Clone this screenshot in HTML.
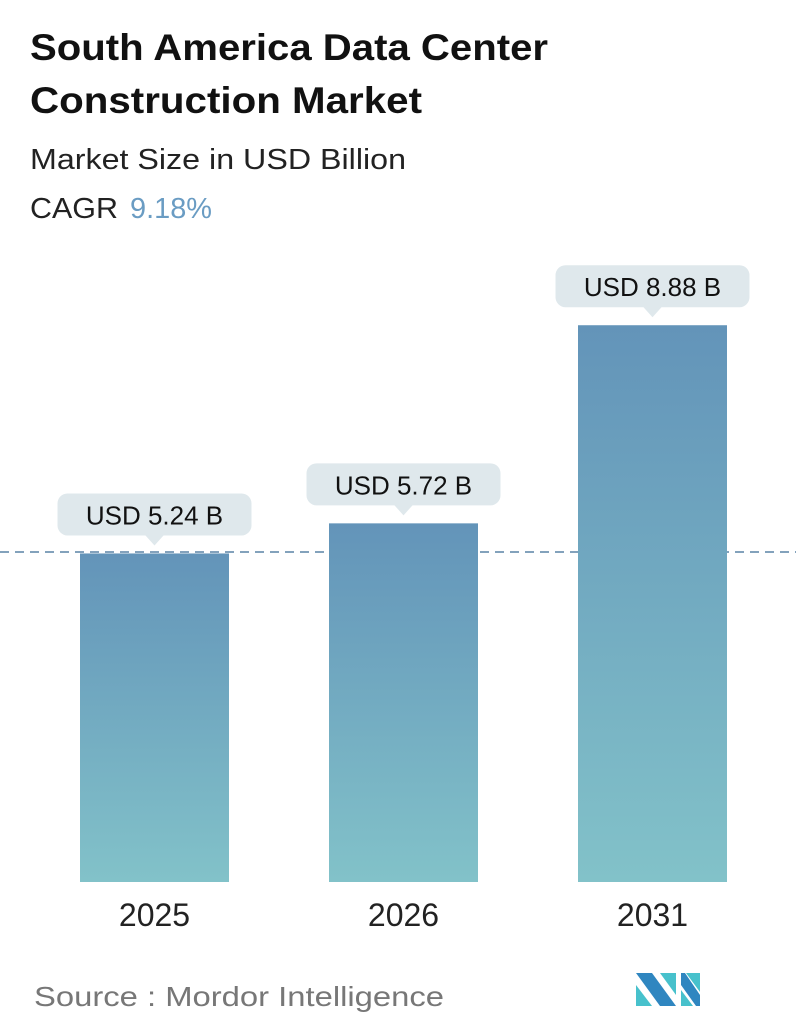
<!DOCTYPE html>
<html><head><meta charset="utf-8"><style>
html,body{margin:0;padding:0;background:#fff}
svg{display:block;font-family:"Liberation Sans",sans-serif}
</style></head><body>
<svg id="chart" width="796" height="1034" viewBox="0 0 796 1034" xmlns="http://www.w3.org/2000/svg">
<defs>
<linearGradient id="barGrad" x1="0" y1="0" x2="0" y2="1">
<stop offset="0" stop-color="#6394b9"/>
<stop offset="1" stop-color="#82c2c9"/>
</linearGradient>
</defs>
<text x="30" y="60" font-size="37" font-weight="bold" fill="#111" textLength="518" lengthAdjust="spacingAndGlyphs">South America Data Center</text>
<text x="30" y="113" font-size="37" font-weight="bold" fill="#111" textLength="392" lengthAdjust="spacingAndGlyphs">Construction Market</text>
<text x="30" y="169" font-size="29" fill="#222" textLength="376" lengthAdjust="spacingAndGlyphs">Market Size in USD Billion</text>
<text x="30" y="218" font-size="29" fill="#222" textLength="88" lengthAdjust="spacingAndGlyphs">CAGR</text>
<text x="130" y="218" font-size="29" fill="#6a9cc3" textLength="82" lengthAdjust="spacingAndGlyphs">9.18%</text>
<line x1="0" y1="552" x2="796" y2="552" stroke="#5a84a6" stroke-width="1.5" stroke-dasharray="9,6"/>
<g id="bars"></g>
<text x="34" y="1006" font-size="28" fill="#777" textLength="410" lengthAdjust="spacingAndGlyphs">Source :  Mordor Intelligence</text>
<g>
<polygon points="636,973 652,973 676,1006 660,1006" fill="#2f86c0"/>
<polygon points="636,985 652,1006 636,1006" fill="#47c1cc"/>
<polygon points="660,973 676,973 676,995" fill="#47c1cc"/>
<polygon points="681,973 685,973 700,995 700,1006 696,1006 681,985" fill="#2f86c0"/>
<polygon points="686,973 700,973 700,992" fill="#47c1cc"/>
<polygon points="681,990 693,1006 681,1006" fill="#47c1cc"/>
</g>
</svg>
<script>
const categories = ["2025","2026","2031"];
const values = [5.24,5.72,8.88];
const valueLabels = ["USD 5.24 B","USD 5.72 B","USD 8.88 B"];
const baseY = 882, pxPerUnit = 62.7;
const y = v => baseY - v * pxPerUnit;
const x = i => 80 + i * 249;
const barW = 149;
const g = document.getElementById('bars');
const NS = 'http://www.w3.org/2000/svg';
function mk(tag, attrs){const e=document.createElementNS(NS,tag);for(const k in attrs)e.setAttribute(k,attrs[k]);return e;}
categories.forEach((c,i)=>{
  const top = y(values[i]);
  const r = mk('rect',{x:x(i),y:top,width:barW,height:baseY-top,fill:'url(#barGrad)'});
  
  
  g.appendChild(r);
  const cx = x(i) + barW/2;
  const bw = 194, bh = 42, by = top - 60;
  const box = mk('path',{d:`M${cx-bw/2+10},${by} h${bw-20} a10,10 0 0 1 10,10 v${bh-20} a10,10 0 0 1 -10,10 H${cx+9} l-9,10 l-9,-10 H${cx-bw/2+10} a10,10 0 0 1 -10,-10 v-${bh-20} a10,10 0 0 1 10,-10 Z`,fill:'#dfe8ec'});
  
  
  g.appendChild(box);
  const t = mk('text',{x:cx,y:by+31,'font-size':26,'text-anchor':'middle',fill:'#111'});
  
  
  t.textContent = valueLabels[i];
  g.appendChild(t);
  const xl = mk('text',{x:cx,y:926,'font-size':32,'text-anchor':'middle',fill:'#222'});
  
  
  xl.textContent = c;
  g.appendChild(xl);
});
</script>
</body></html>
